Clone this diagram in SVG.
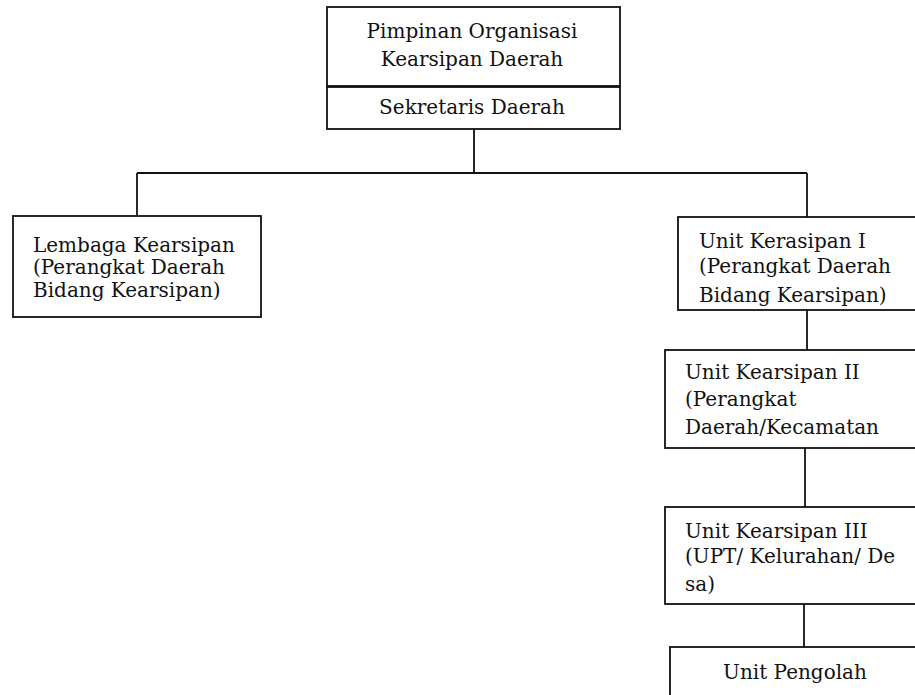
<svg xmlns="http://www.w3.org/2000/svg" width="915" height="695" viewBox="0 0 915 695">
<style>
.box{fill:#fff;stroke:#111;stroke-width:1.8}
.ln{fill:none;stroke:#111;stroke-width:1.8}
text{font-family:"DejaVu Serif","Liberation Serif",serif;font-size:20px;fill:#111}
.c{text-anchor:middle}
</style>
<rect width="915" height="695" fill="#fff"/>
<g id="connectors">
<path class="ln" d="M474 129 V173 M137 173 H807 M137 173 V216 M807 173 V217"/>
<path class="ln" d="M807 310 V350"/>
<path class="ln" d="M805 448 V507"/>
<path class="ln" d="M804 604 V647"/>
</g>
<g id="pimpinan">
<rect class="box" x="327" y="7" width="293" height="79"/>
<text class="c" x="472" y="38">Pimpinan Organisasi</text>
<text class="c" x="472" y="66">Kearsipan Daerah</text>
</g>
<g id="sekretaris">
<rect class="box" x="327" y="87" width="293" height="42"/>
<text class="c" x="472" y="114">Sekretaris Daerah</text>
</g>
<g id="lembaga">
<rect class="box" x="13" y="216" width="248" height="101"/>
<text x="33" y="252">Lembaga Kearsipan</text>
<text x="33" y="274">(Perangkat Daerah</text>
<text x="33" y="297">Bidang Kearsipan)</text>
</g>
<g id="unit1">
<rect class="box" x="678" y="217" width="250" height="93"/>
<text x="699" y="248">Unit Kerasipan I</text>
<text x="699" y="273">(Perangkat Daerah</text>
<text x="699" y="302">Bidang Kearsipan)</text>
</g>
<g id="unit2">
<rect class="box" x="665" y="350" width="260" height="98"/>
<text x="685" y="379">Unit Kearsipan II</text>
<text x="685" y="406">(Perangkat</text>
<text x="685" y="434">Daerah/Kecamatan</text>
</g>
<g id="unit3">
<rect class="box" x="665" y="507" width="260" height="97"/>
<text x="685" y="538">Unit Kearsipan III</text>
<text x="685" y="563">(UPT/ Kelurahan/ De</text>
<text x="685" y="591">sa)</text>
</g>
<g id="pengolah">
<rect class="box" x="670" y="647" width="260" height="60"/>
<text class="c" x="795" y="679">Unit Pengolah</text>
</g>
</svg>
